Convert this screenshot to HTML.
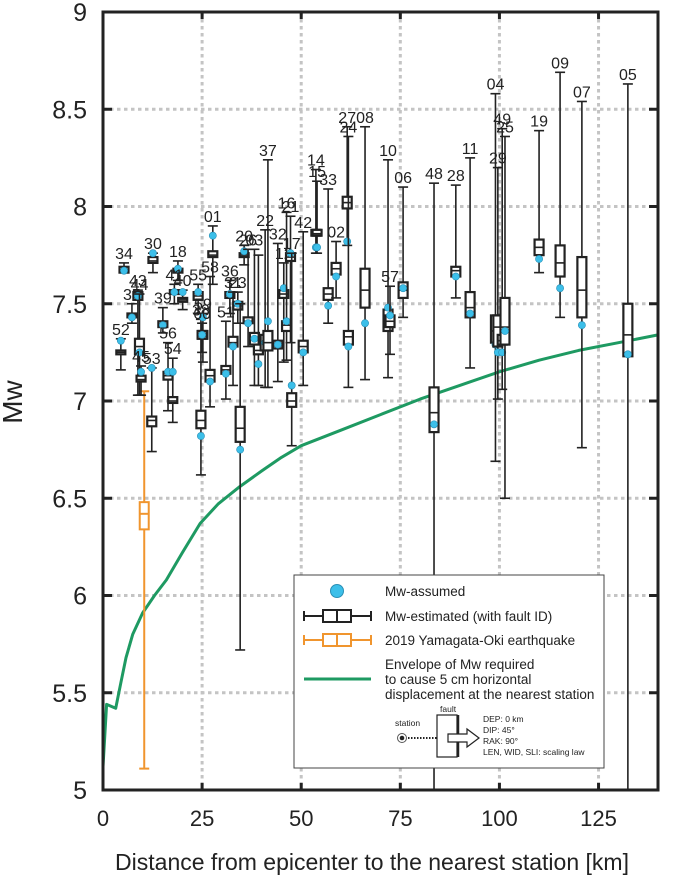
<!DOCTYPE html>
<html><head><meta charset="utf-8"><style>
body{margin:0;background:#fff;}
svg{display:block;font-family:"Liberation Sans","DejaVu Sans",sans-serif;}
</style></head><body>
<svg id="chart" width="685" height="885" viewBox="0 0 685 885" xmlns="http://www.w3.org/2000/svg">
<g id="grid"></g>
<g id="env"></g>
<g id="boxes"></g>
<g id="axes"></g>
<text x="22" y="402" font-size="28" fill="#222" text-anchor="middle" transform="rotate(-90 22 402)">Mw</text>
<text x="372" y="870" font-size="23" fill="#222" text-anchor="middle">Distance from epicenter to the nearest station [km]</text>
<g>
<rect x="294" y="575" width="310" height="193" fill="#fff" stroke="#444" stroke-width="1"/>
<circle cx="337" cy="591" r="6.5" fill="#3cbfe9" stroke="#2a8fb5" stroke-width="1"/>
<text x="385" y="596" font-size="13.5" fill="#222">Mw-assumed</text>
<g stroke="#222" stroke-width="2" fill="none">
<line x1="304" y1="616" x2="371" y2="616"/><line x1="304" y1="611" x2="304" y2="621"/><line x1="371" y1="611" x2="371" y2="621"/>
<rect x="323" y="610" width="28" height="12" fill="#fff"/><line x1="337" y1="610" x2="337" y2="622"/></g>
<text x="385" y="621" font-size="13.5" fill="#222">Mw-estimated (with fault ID)</text>
<g stroke="#f0952e" stroke-width="2" fill="none">
<line x1="304" y1="640" x2="371" y2="640"/><line x1="304" y1="635" x2="304" y2="645"/><line x1="371" y1="635" x2="371" y2="645"/>
<rect x="323" y="634" width="28" height="12" fill="#fff"/><line x1="337" y1="634" x2="337" y2="646"/></g>
<text x="385" y="645" font-size="13.5" fill="#222">2019 Yamagata-Oki earthquake</text>
<line x1="304" y1="679" x2="371" y2="679" stroke="#1e9a62" stroke-width="3"/>
<text x="385" y="669" font-size="13.5" fill="#222">Envelope of Mw required</text>
<text x="385" y="684" font-size="13.5" fill="#222">to cause 5 cm horizontal</text>
<text x="385" y="699" font-size="13.5" fill="#222">displacement at the nearest station</text>
<text x="395" y="726" font-size="8.5" fill="#222">station</text>
<circle cx="402" cy="738" r="4.5" fill="#fff" stroke="#555" stroke-width="1"/><circle cx="402" cy="738" r="2.3" fill="#222"/>
<line x1="408" y1="738" x2="446" y2="738" stroke="#222" stroke-width="2" stroke-dasharray="1.5 1.5"/>
<text x="440" y="712" font-size="8.5" fill="#222">fault</text>
<rect x="437" y="715" width="20" height="42" fill="#fff" stroke="#222" stroke-width="1.2"/>
<line x1="458" y1="715" x2="458" y2="757" stroke="#222" stroke-width="2.5"/>
<path d="M448 734 H467 V729 L479 738 L467 747 V742 H448 Z" fill="#fff" stroke="#222" stroke-width="1.2"/>
<text x="483" y="722" font-size="8.5" fill="#222">DEP: 0 km</text>
<text x="483" y="733" font-size="8.5" fill="#222">DIP: 45°</text>
<text x="483" y="744" font-size="8.5" fill="#222">RAK: 90°</text>
<text x="483" y="755" font-size="8.5" fill="#222">LEN, WID, SLI: scaling law</text>
</g>
</svg>
<script>
const xTicks=[0,25,50,75,100,125];
const yTicks=[5,5.5,6,6.5,7,7.5,8,8.5,9];
const yTickLabels=["5","5.5","6","6.5","7","7.5","8","8.5","9"];
const ids=["34","52","35","43","44","45","53","30","39","56","54","18","41","40","55","38","59","58","01","60","51","36","31","23","","20","26","03","","22","37","32","12","16","21","17","42","14","15","33","02","27","24","08","10","57","06","48","28","11","04","29","49","25","19","09","07","05"];
const dist=[5.3,4.5,7.3,8.8,9.2,9.6,12.3,12.6,15.1,16.4,17.6,18.9,18.0,20.1,24.0,24.7,25.2,27.0,27.7,25.0,31.0,32.0,32.8,34.0,34.6,35.6,36.6,38.2,39.2,40.9,41.6,44.1,45.6,46.3,47.3,47.6,50.5,53.7,54.0,56.8,58.8,61.6,61.9,66.1,71.9,72.4,75.7,83.5,89.0,92.6,99.0,99.6,100.7,101.4,110,115.3,120.8,132.4];
const lowW=[7.66,7.16,7.40,7.03,7.03,7.03,6.74,7.66,7.35,6.95,6.89,7.62,7.50,7.47,7.45,6.62,7.20,6.97,7.60,7.25,7.01,7.45,7.08,7.40,5.72,7.70,7.28,7.08,7.08,7.07,7.07,7.10,7.20,7.21,7.30,6.77,7.08,7.76,7.76,7.40,7.53,7.80,7.07,7.11,7.12,7.24,7.43,5.0,7.53,7.17,6.69,7.01,7.06,6.50,7.66,7.43,6.76,5.0];
const q1=[7.66,7.24,7.43,7.52,7.24,7.10,6.87,7.71,7.38,7.11,6.99,7.66,7.55,7.51,7.52,6.86,7.32,7.10,7.74,7.32,7.14,7.53,7.28,7.47,6.79,7.74,7.40,7.29,7.24,7.26,7.26,7.27,7.53,7.36,7.72,6.97,7.25,7.85,7.85,7.52,7.65,7.99,7.29,7.48,7.36,7.38,7.53,6.84,7.64,7.43,7.30,7.28,7.29,7.29,7.75,7.64,7.43,7.23];
const med=[7.67,7.25,7.44,7.54,7.28,7.11,6.90,7.72,7.39,7.13,7.00,7.67,7.56,7.52,7.54,6.90,7.34,7.13,7.75,7.34,7.16,7.55,7.30,7.49,6.86,7.75,7.41,7.32,7.26,7.30,7.30,7.29,7.55,7.39,7.74,7.00,7.28,7.86,7.86,7.55,7.68,8.02,7.33,7.57,7.42,7.41,7.57,6.94,7.67,7.48,7.36,7.38,7.31,7.38,7.79,7.71,7.57,7.34];
const q3=[7.69,7.26,7.45,7.56,7.32,7.13,6.92,7.74,7.41,7.15,7.02,7.68,7.57,7.53,7.56,6.95,7.36,7.16,7.77,7.36,7.18,7.56,7.33,7.51,6.97,7.76,7.43,7.35,7.29,7.34,7.36,7.31,7.57,7.41,7.76,7.04,7.31,7.88,7.88,7.58,7.71,8.05,7.36,7.68,7.47,7.44,7.61,7.07,7.69,7.56,7.44,7.44,7.34,7.53,7.83,7.80,7.74,7.50];
const highW=[7.71,7.32,7.50,7.57,7.55,7.18,7.17,7.76,7.48,7.30,7.22,7.72,7.60,7.57,7.60,7.42,7.45,7.64,7.90,7.40,7.41,7.62,7.56,7.56,7.50,7.80,7.78,7.78,7.75,7.88,8.24,7.81,7.71,7.97,7.95,7.76,7.87,8.19,8.13,8.09,7.82,8.41,8.36,8.41,8.24,7.59,8.10,8.12,8.11,8.25,8.58,8.20,8.40,8.36,8.39,8.69,8.54,8.63];
const assumed=[7.67,7.31,7.43,7.54,7.25,7.15,7.17,7.76,7.39,7.15,7.15,7.68,7.56,7.56,7.56,6.82,7.43,7.10,7.85,7.34,7.14,7.55,7.28,7.50,6.75,7.77,7.40,7.32,7.19,7.30,7.41,7.29,7.58,7.41,7.76,7.08,7.25,7.79,7.79,7.49,7.64,7.82,7.28,7.40,7.48,7.44,7.58,6.88,7.64,7.45,7.29,7.25,7.25,7.36,7.73,7.58,7.39,7.24];
const yamaStats=[10.4,5.11,6.34,6.42,6.48,7.05];
const envKm=[0,0.9,3.2,4.5,5.8,7.5,10,13,16,20,24.5,29,34.5,40,45,50,60,70,80,90,100,110,120,130,140];
const envMw=[5.12,5.44,5.42,5.55,5.68,5.80,5.91,6.00,6.08,6.22,6.37,6.47,6.56,6.64,6.71,6.77,6.85,6.93,7.01,7.08,7.15,7.21,7.26,7.30,7.34];

const NS="http://www.w3.org/2000/svg";
const X0=103,X1=658,Y0=790,Y1=12;
function sx(v){return X0+(v-0)/(140-0)*(X1-X0);}
function sy(v){return Y0-(v-5)/(9-5)*(Y0-Y1);}
function mk(tag,attrs,parent){const e=document.createElementNS(NS,tag);for(const k in attrs)e.setAttribute(k,attrs[k]);parent.appendChild(e);return e;}
const grid=document.getElementById('grid'),axes=document.getElementById('axes'),boxes=document.getElementById('boxes'),env=document.getElementById('env');
xTicks.forEach(t=>{if(t>0){const l=mk('line',{x1:sx(t),x2:sx(t),y1:Y1,y2:Y0,stroke:'#c4c4c4','stroke-width':3,'stroke-dasharray':'3.5 3.5'},grid);

}});
yTicks.forEach(t=>{if(t>5&&t<9){const l=mk('line',{x1:X0,x2:X1,y1:sy(t),y2:sy(t),stroke:'#c4c4c4','stroke-width':3,'stroke-dasharray':'3.5 3.5'},grid);

}});
let d='';envKm.forEach((k,i)=>{d+=(i?'L':'M')+sx(k).toFixed(1)+' '+sy(envMw[i]).toFixed(1);});
const ep=mk('path',{d:d,fill:'none',stroke:'#1e9a62','stroke-width':3,'stroke-linejoin':'round'},env);


(function(){const g=mk('g',{stroke:'#f0952e','stroke-width':2,fill:'none'},boxes);


const x=sx(yamaStats[0]);
mk('line',{x1:x,x2:x,y1:sy(yamaStats[1]),y2:sy(yamaStats[5])},g);
mk('line',{x1:x-5,x2:x+5,y1:sy(yamaStats[1]),y2:sy(yamaStats[1])},g);
mk('line',{x1:x-5,x2:x+5,y1:sy(yamaStats[5]),y2:sy(yamaStats[5])},g);
mk('rect',{x:x-4.5,y:sy(yamaStats[4]),width:9,height:sy(yamaStats[2])-sy(yamaStats[4]),fill:'#fff'},g);
mk('line',{x1:x-4.5,x2:x+4.5,y1:sy(yamaStats[3]),y2:sy(yamaStats[3])},g);})();
ids.forEach((id,i)=>{const g=mk('g',{},boxes);


const x=sx(dist[i]);const c={stroke:'#222','stroke-width':1.6};
mk('line',Object.assign({x1:x,x2:x,y1:sy(lowW[i]),y2:sy(highW[i])},c),g);
mk('line',Object.assign({x1:x-5,x2:x+5,y1:sy(lowW[i]),y2:sy(lowW[i])},c),g);
mk('line',Object.assign({x1:x-5,x2:x+5,y1:sy(highW[i]),y2:sy(highW[i])},c),g);
mk('rect',{x:x-4.5,y:sy(q3[i]),width:9,height:Math.max(1,sy(q1[i])-sy(q3[i])),fill:'#fff',stroke:'#222','stroke-width':2.2},g);
mk('line',Object.assign({x1:x-4.5,x2:x+4.5,y1:sy(med[i]),y2:sy(med[i])},c),g);
const dot=mk('circle',{cx:x,cy:sy(assumed[i]),r:3.6,fill:'#3cbfe9',stroke:'#2a8fb5','stroke-width':0.6},g);


if(id){const t=mk('text',{x:x,y:sy(highW[i])-4,'font-size':16,fill:'#222','text-anchor':'middle'},g);t.textContent=id;

}
});
const fr=mk('rect',{x:X0,y:Y1,width:X1-X0,height:Y0-Y1,fill:'none',stroke:'#222','stroke-width':3},axes);


xTicks.forEach(t=>{mk('line',{x1:sx(t),x2:sx(t),y1:Y0,y2:Y0-7,stroke:'#222','stroke-width':3},axes);
mk('line',{x1:sx(t),x2:sx(t),y1:Y1,y2:Y1+7,stroke:'#222','stroke-width':3},axes);
const tl=mk('text',{x:sx(t),y:Y0+36,'font-size':22,fill:'#222','text-anchor':'middle'},axes);tl.textContent=String(t);

});
yTicks.forEach((t,i)=>{mk('line',{x1:X0,x2:X0+9,y1:sy(t),y2:sy(t),stroke:'#222','stroke-width':3},axes);
mk('line',{x1:X1,x2:X1-9,y1:sy(t),y2:sy(t),stroke:'#222','stroke-width':3},axes);
const tl=mk('text',{x:X0-16,y:sy(t)+9,'font-size':25,fill:'#222','text-anchor':'end'},axes);tl.textContent=yTickLabels[i];

});
</script>
</body></html>
